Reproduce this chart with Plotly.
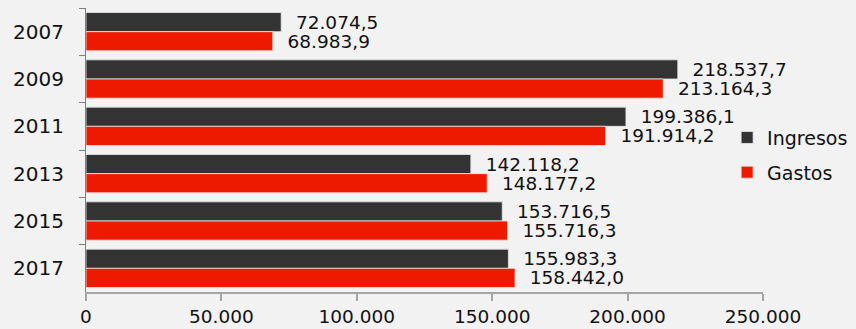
import plotly.graph_objects as go

# Presupuesto por año (miles)
years = ["2007", "2009", "2011", "2013", "2015", "2017"]
ingresos = [72074.5, 218537.7, 199386.1, 142118.2, 153716.5, 155983.3]
gastos = [68983.9, 213164.3, 191914.2, 148177.2, 155716.3, 158442.0]
tick_vals = [0, 50000, 100000, 150000, 200000, 250000]
tick_text = ["0", "50.000", "100.000", "150.000", "200.000", "250.000"]

FONT = "DejaVu Sans, Verdana, sans-serif"
PAD = "\u00a0\u00a0"


def es_fmt(v):
    """Formato español: punto para miles, coma decimal."""
    s = f"{v:,.1f}"
    return s.replace(",", "X").replace(".", ",").replace("X", ".")


fig = go.Figure()
fig.add_trace(go.Bar(
    name="Ingresos", y=years, x=ingresos, orientation="h", legendgroup="ing",
    marker=dict(color="#333333", line=dict(color="#E8E8E8", width=0.8)),
    text=[PAD + es_fmt(v) for v in ingresos], textposition="outside",
    textfont=dict(family=FONT, size=18.5, color="#111111"),
    constraintext="none", cliponaxis=False,
))
fig.add_trace(go.Bar(
    name="Gastos", y=years, x=gastos, orientation="h", legendgroup="gas",
    marker=dict(color="#EE1A00", line=dict(color="#E8E8E8", width=0.8)),
    text=[PAD + es_fmt(v) for v in gastos], textposition="outside",
    textfont=dict(family=FONT, size=18.5, color="#111111"),
    constraintext="none", cliponaxis=False,
))

fig.update_layout(
    width=856, height=329,
    margin=dict(l=86, r=93, t=8, b=37, autoexpand=False),
    paper_bgcolor="#F2F2F2", plot_bgcolor="#F2F2F2",
    barmode="group", bargap=0.19, bargroupgap=0,
    font=dict(family=FONT, size=18.5, color="#111111"),
    showlegend=True,
    legend=dict(
        x=0.947, y=0.482, xanchor="left", yanchor="middle",
        bgcolor="rgba(0,0,0,0)", font=dict(family=FONT, size=19, color="#111111"),
        itemwidth=30, tracegroupgap=7,
    ),
    xaxis=dict(
        range=[0, 250000], tickvals=tick_vals, ticktext=tick_text,
        showgrid=False, zeroline=False, automargin=False,
        showline=True, linecolor="#A6A6A6", linewidth=2,
        ticks="outside", ticklen=7, tickwidth=2, tickcolor="#A6A6A6",
        tickfont=dict(family=FONT, size=18.5, color="#111111"),
        ticklabelstandoff=0,
    ),
    yaxis=dict(
        autorange="reversed", type="category", automargin=False,
        showgrid=False, zeroline=False,
        showline=True, linecolor="#7F7F7F", linewidth=1,
        ticks="outside", ticklen=6, tickwidth=1, tickcolor="#7F7F7F",
        tickson="boundaries",
        tickfont=dict(family=FONT, size=20, color="#111111"),
        ticklabelstandoff=17,
    ),
)

fig.write_html("out.html")
